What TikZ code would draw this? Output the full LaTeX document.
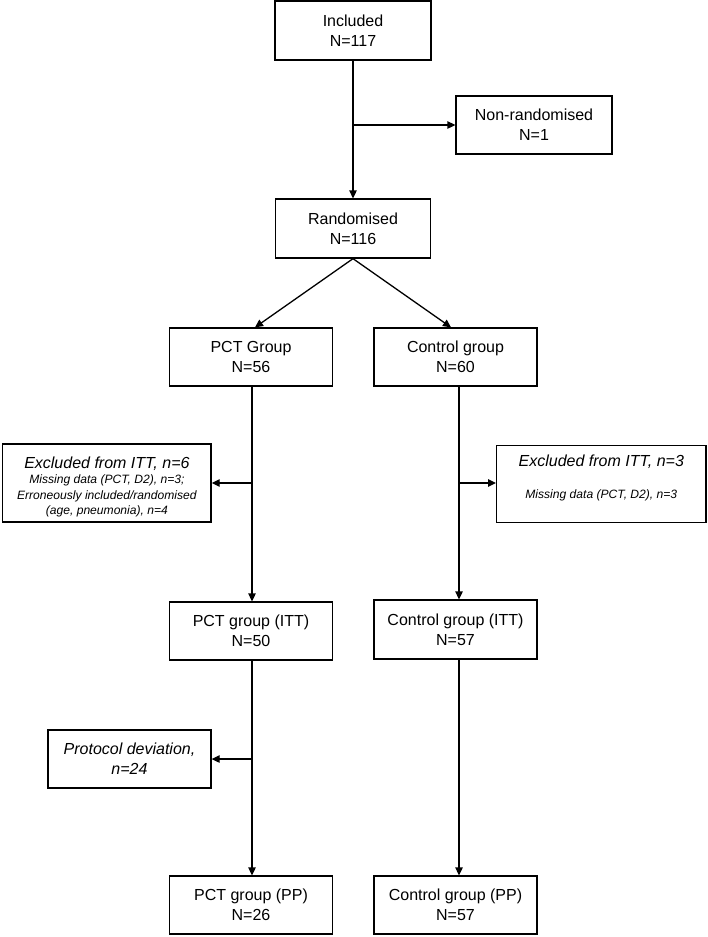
\documentclass[tikz,border=0pt]{standalone}
\usepackage{fontspec}
\setmainfont{Liberation Sans}
\usetikzlibrary{arrows.meta}
\newcommand{\smalltxt}[1]{{\fontsize{12.1}{15}\selectfont\itshape #1}}
\begin{document}
\begin{tikzpicture}[x=1pt,y=-1pt,
  box/.style={draw, line width=1.3pt, inner sep=0pt, align=center,
    font=\fontsize{16}{20}\selectfont},
  conn/.style={line width=1.3pt, -{Triangle[length=8pt,width=7.5pt]}}]
\useasboundingbox (0,0) rectangle (708,937);
\node[box, minimum width=156pt, minimum height=59pt] (inc) at (353,30.5) {Included\\N=117};
\node[box, minimum width=156pt, minimum height=58pt] (non) at (534,125) {Non-randomised\\N=1};
\node[box, minimum width=155pt, minimum height=59pt] (rand) at (353,228.5) {Randomised\\N=116};
\node[box, minimum width=163pt, minimum height=58pt] (pct) at (251,357) {PCT Group\\N=56};
\node[box, minimum width=163pt, minimum height=58pt] (ctl) at (455.5,357) {Control group\\N=60};
\node[box, minimum width=208.3pt, minimum height=78pt] (excl) at (106.9,483)
  {\rule{0pt}{19pt}\textit{Excluded from ITT, n=6}\\[-4.5pt]
   \smalltxt{Missing data (PCT, D2), n=3;}\\[-4.5pt]
   \smalltxt{Erroneously included/randomised}\\[-4.5pt]
   \smalltxt{(age, pneumonia), n=4}};
\node[box, minimum width=209.3pt, minimum height=77pt] (excr) at (601.3,484)
  {\textit{Excluded from ITT, n=3}\\[12pt]
   \smalltxt{Missing data (PCT, D2), n=3}\rule[-14.7pt]{0pt}{14.7pt}};
\node[box, minimum width=163pt, minimum height=58pt] (pctitt) at (251,631) {PCT group (ITT)\\N=50};
\node[box, minimum width=163pt, minimum height=59pt] (ctlitt) at (455.5,629.5) {Control group (ITT)\\N=57};
\node[box, minimum width=163pt, minimum height=58pt, font=\fontsize{16}{20}\selectfont\itshape] (prot) at (129.5,759) {Protocol deviation,\\n=24};
\node[box, minimum width=163pt, minimum height=58pt] (pctpp) at (251,905) {PCT group (PP)\\N=26};
\node[box, minimum width=163pt, minimum height=58pt] (ctlpp) at (455.5,905) {Control group (PP)\\N=57};
% connector anchor points
\coordinate (p1) at ([xshift=1pt]pct.south);
\coordinate (p2) at ([xshift=1pt]pctitt.north);
\coordinate (p3) at ([xshift=1pt]pctitt.south);
\coordinate (p4) at ([xshift=1pt]pctpp.north);
\coordinate (c1) at ([xshift=3.5pt]ctl.south);
\coordinate (c2) at ([xshift=3.5pt]ctlitt.north);
\coordinate (c3) at ([xshift=3.5pt]ctlitt.south);
\coordinate (c4) at ([xshift=3.5pt]ctlpp.north);
% connectors
\draw[conn] (inc.south) -- (rand.north);
\coordinate (b1) at (inc.south |- non.west);
\draw[conn] (b1) -- (non.west);
\draw[conn] (rand.south) -- ([xshift=4pt]pct.north);
\draw[conn] (rand.south) -- ([xshift=-4.5pt]ctl.north);
\draw[conn] (p1) -- (p2);
\coordinate (b2) at (p1 |- excl.east);
\draw[conn] (b2) -- (excl.east);
\draw[conn] (c1) -- (c2);
\coordinate (b3) at (c1 |- excl.east);
\draw[conn] (b3) -- (excr.west |- b3);
\draw[conn] (p3) -- (p4);
\coordinate (b4) at (p3 |- prot.east);
\draw[conn] (b4) -- (prot.east);
\draw[conn] (c3) -- (c4);
\end{tikzpicture}
\end{document}
